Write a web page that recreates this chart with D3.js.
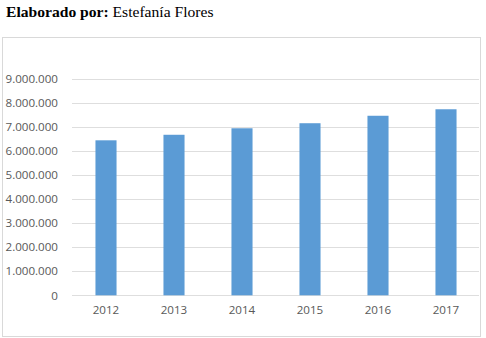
<!DOCTYPE html>
<html>
<head>
<meta charset="utf-8">
<script src="https://cdn.jsdelivr.net/npm/d3@7"></script>
<style>
  body { margin: 0; background: #fff; }
</style>
</head>
<body>
<div id="chart"></div>
<script>
// values
const years = ["2012", "2013", "2014", "2015", "2016", "2017"];
const values = [6440000, 6670000, 6940000, 7150000, 7460000, 7730000];
const yTicks = [0, 1000000, 2000000, 3000000, 4000000, 5000000, 6000000, 7000000, 8000000, 9000000];

const width = 486, height = 338;
const svg = d3.select("#chart").append("svg")
    .attr("width", width)
    .attr("height", height);

// Caption above the chart
const cap = svg.append("text")
    .attr("x", 6)
    .attr("y", 17)
    .attr("font-family", "'Liberation Serif', 'Times New Roman', serif")
    .attr("font-size", "15.6px")
    .attr("fill", "#000");
cap.append("tspan").attr("font-weight", "bold").text("Elaborado por: ");
cap.append("tspan").text("Estefanía Flores");

// chart frame
svg.append("rect")
    .attr("x", 2.5).attr("y", 37.5)
    .attr("width", 478).attr("height", 299)
    .attr("fill", "#fff")
    .attr("stroke", "#d9d9d9");

const x = d3.scaleBand().domain(years).range([72, 480]).paddingInner(0.69).paddingOuter(0.345);
const y = d3.scaleLinear().domain([0, 9000000]).range([295.3, 78.7]);

const fmt = d3.formatLocale({ decimal: ",", thousands: ".", grouping: [3], currency: ["", ""] }).format(",d");

// gridlines
svg.append("g")
    .selectAll("line")
    .data(yTicks)
    .join("line")
    .attr("x1", 72).attr("x2", 479)
    .attr("y1", d => Math.round(y(d)) + 0.5)
    .attr("y2", d => Math.round(y(d)) + 0.5)
    .attr("stroke", "#dedede")
    .attr("stroke-width", 1);

// y axis labels
const yAxis = svg.append("g")
    .attr("transform", "translate(72,0)")
    .call(d3.axisLeft(y).tickValues(yTicks).tickFormat(fmt).tickSize(0).tickPadding(14));
yAxis.select(".domain").remove();
yAxis.selectAll("text")
    .attr("font-family", "'Open Sans', sans-serif")
    .attr("font-size", "11.6px")
    .attr("fill", "#595959");

// x axis labels
const xAxis = svg.append("g")
    .attr("transform", "translate(0,295.3)")
    .call(d3.axisBottom(x).tickSize(0).tickPadding(10));
xAxis.select(".domain").remove();
xAxis.selectAll("text")
    .attr("font-family", "'Open Sans', sans-serif")
    .attr("font-size", "11.6px")
    .attr("fill", "#595959");

// bars
svg.append("g")
    .selectAll("rect")
    .data(values)
    .join("rect")
    .attr("x", (d, i) => x(years[i]))
    .attr("width", x.bandwidth())
    .attr("y", d => y(d))
    .attr("height", d => y(0) - y(d))
    .attr("fill", "#5b9bd5");
</script>
</body>
</html>
